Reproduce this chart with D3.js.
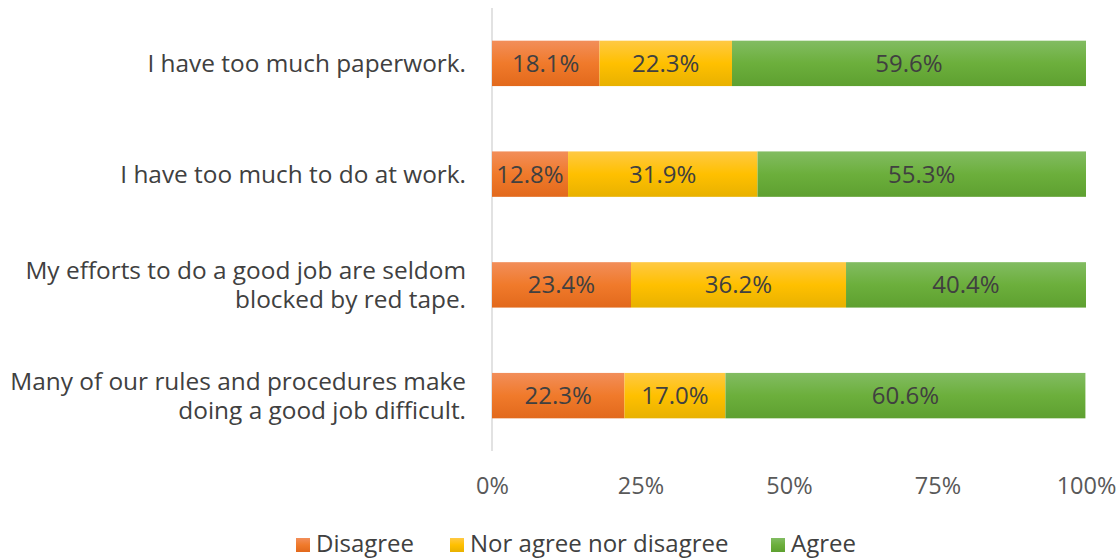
<!DOCTYPE html>
<html>
<head>
<meta charset="utf-8">
<script src="https://cdn.jsdelivr.net/npm/d3@7"></script>
<style>
  body { margin: 0; background: #fff; }
  svg { display: block; }
  text { font-family: "Open Sans", sans-serif; }
</style>
</head>
<body>
<svg id="chart" width="1119" height="558"></svg>
<script>
// Survey statements, top to bottom
const statements = [
  ["I have too much paperwork."],
  ["I have too much to do at work."],
  ["My efforts to do a good job are seldom", "blocked by red tape."],
  ["Many of our rules and procedures make", "doing a good job difficult."]
];
const seriesNames = ["Disagree", "Nor agree nor disagree", "Agree"];
const disagree = [18.1, 12.8, 23.4, 22.3];
const neutral  = [22.3, 31.9, 36.2, 17.0];
const agree    = [59.6, 55.3, 40.4, 60.6];
const tickValues = [0, 25, 50, 75, 100];

const colors = {
  "Disagree": ["#F28E5A", "#F07A2B", "#E2691C"],
  "Nor agree nor disagree": ["#FFC944", "#FFC000", "#E8B100"],
  "Agree": ["#82BC62", "#6CAF3C", "#5EA030"]
};

const svg = d3.select("#chart");
const margin = { left: 492, right: 33, top: 8, bottom: 107 };
const W = 1119, H = 558;

const x = d3.scaleLinear().domain([0, 100]).range([margin.left, W - margin.right]);
const y = d3.scaleBand().domain(d3.range(statements.length))
  .range([margin.top, H - margin.bottom]).paddingInner(0.59).paddingOuter(0.295);

// vertical gradients per series
const defs = svg.append("defs");
seriesNames.forEach((s, i) => {
  const g = defs.append("linearGradient").attr("id", "grad" + i)
    .attr("x1", 0).attr("x2", 0).attr("y1", 0).attr("y2", 1);
  g.append("stop").attr("offset", "0%").attr("stop-color", colors[s][0]);
  g.append("stop").attr("offset", "50%").attr("stop-color", colors[s][1]);
  g.append("stop").attr("offset", "100%").attr("stop-color", colors[s][2]);
});

// value axis line at 0%
svg.append("line")
  .attr("x1", x(0)).attr("x2", x(0))
  .attr("y1", margin.top).attr("y2", H - margin.bottom)
  .attr("stroke", "#D9D9D9").attr("stroke-width", 1.5);

const rows = statements.map((label, i) => ({
  i, Disagree: disagree[i], "Nor agree nor disagree": neutral[i], Agree: agree[i]
}));
const stacked = d3.stack().keys(seriesNames)(rows);

stacked.forEach((layer, si) => {
  const g = svg.append("g");
  g.selectAll("rect").data(layer).join("rect")
    .attr("x", d => x(d[0]))
    .attr("width", d => x(d[1]) - x(d[0]))
    .attr("y", d => y(d.data.i))
    .attr("height", y.bandwidth())
    .attr("fill", `url(#grad${si})`);
  g.selectAll("text").data(layer).join("text")
    .attr("x", d => (x(d[0]) + x(d[1])) / 2)
    .attr("y", d => y(d.data.i) + y.bandwidth() / 2)
    .attr("dy", "0.35em")
    .attr("text-anchor", "middle")
    .attr("font-size", 24)
    .attr("fill", "#404040")
    .text(d => (d[1] - d[0]).toFixed(1) + "%");
});

// category labels
const catG = svg.append("g");
statements.forEach((lines, i) => {
  const cy = y(i) + y.bandwidth() / 2;
  const lh = 29;
  const t = catG.append("text")
    .attr("text-anchor", "end")
    .attr("font-size", 24.4)
    .attr("fill", "#404040");
  lines.forEach((ln, k) => {
    t.append("tspan")
      .attr("x", 466)
      .attr("y", cy + (k - (lines.length - 1) / 2) * lh)
      .attr("dy", "0.35em")
      .text(ln);
  });
});

// x axis tick labels
const axis = d3.axisBottom(x).tickValues(tickValues).tickFormat(d => d + "%").tickSize(0).tickPadding(0);
const ax = svg.append("g").attr("transform", `translate(0, 477)`).call(axis);
ax.select(".domain").remove();
ax.selectAll("text").attr("font-size", 23.5).attr("fill", "#595959")
  .attr("font-family", "'Open Sans', sans-serif");

// legend
const legendX = [296, 450, 771];
const lg = svg.append("g");
seriesNames.forEach((s, i) => {
  lg.append("rect").attr("x", legendX[i]).attr("y", 538).attr("width", 14).attr("height", 14)
    .attr("fill", `url(#grad${i})`);
  lg.append("text").attr("x", legendX[i] + 20).attr("y", 544).attr("dy", "0.35em")
    .attr("font-size", 24).attr("fill", "#404040").text(s);
});
</script>
</body>
</html>
